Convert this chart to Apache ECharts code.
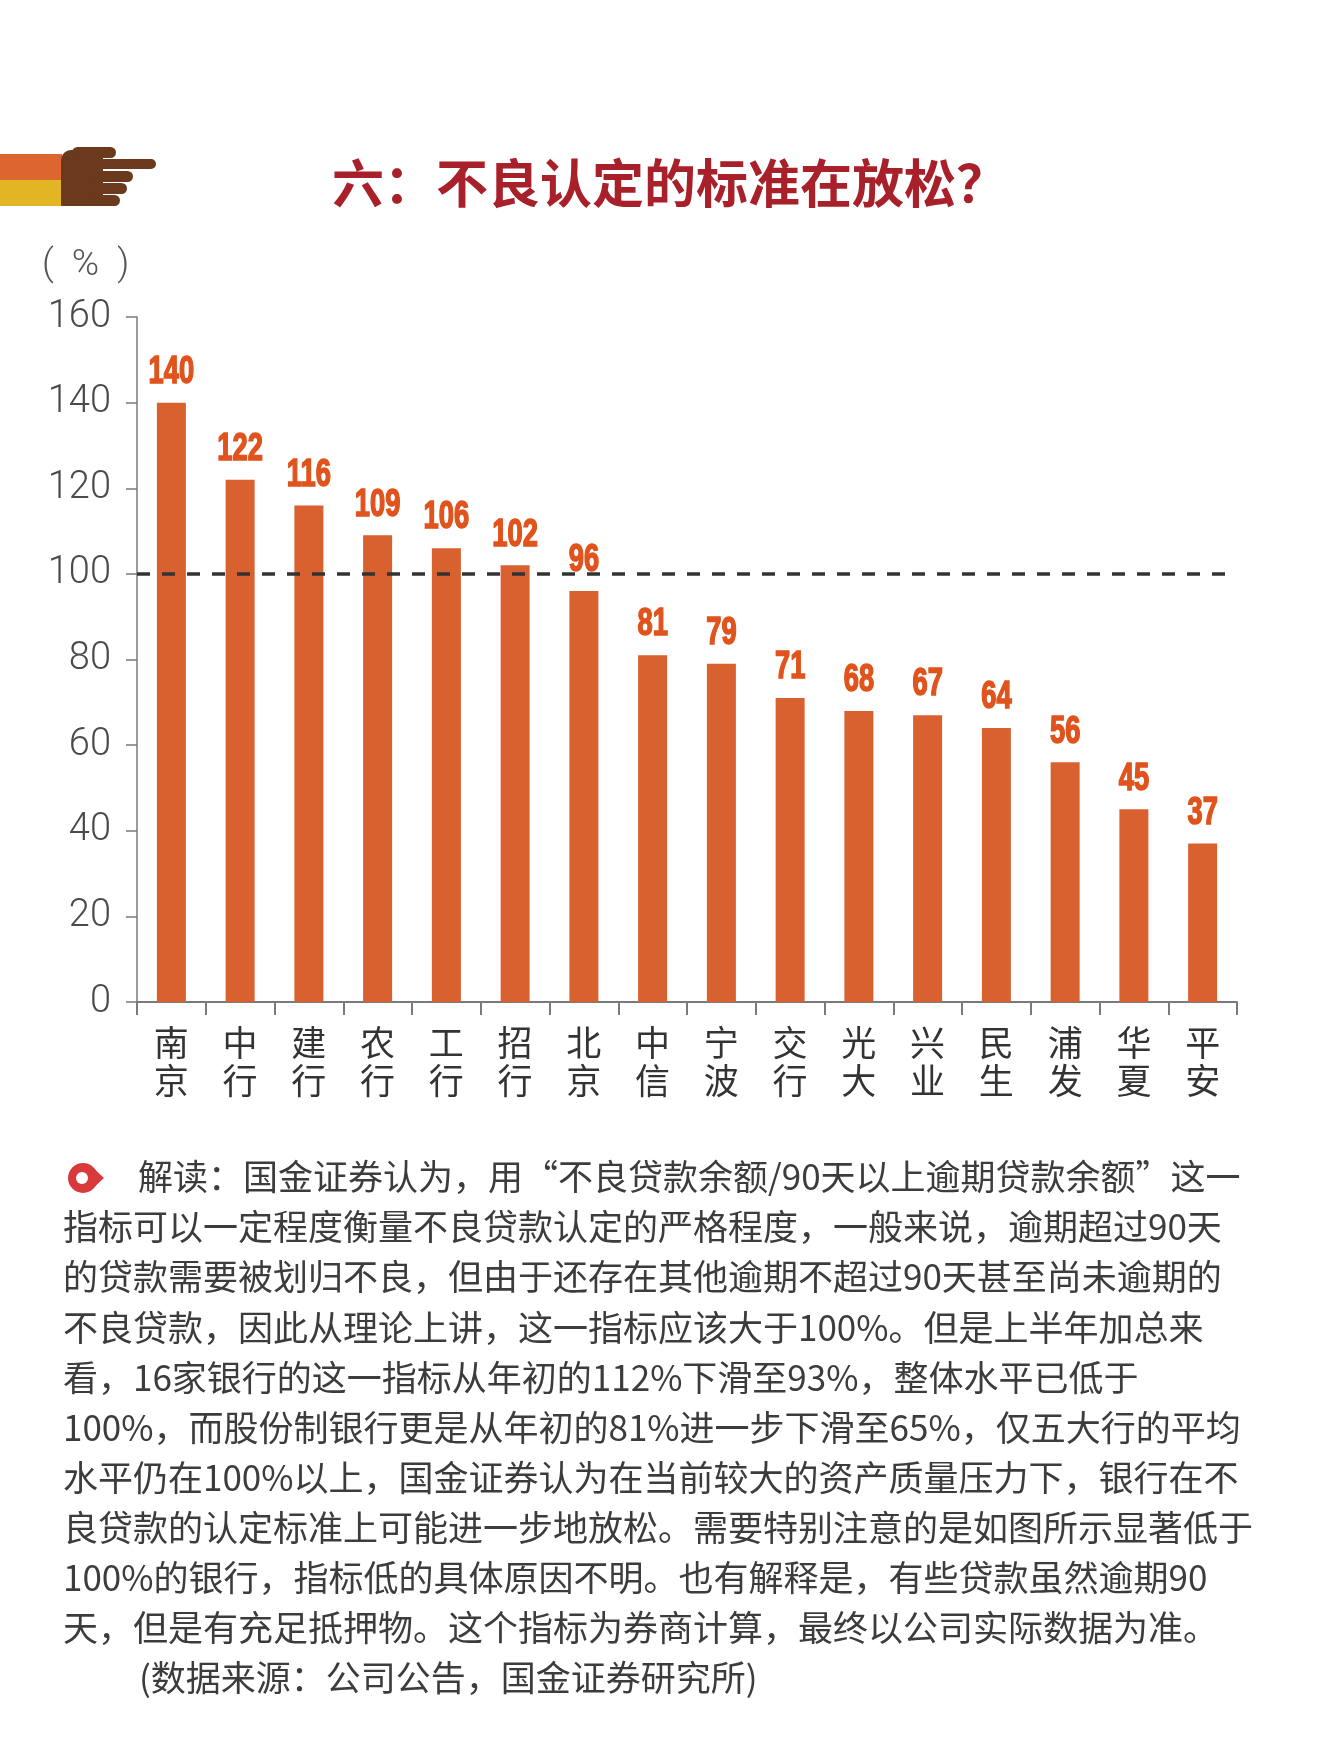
<!DOCTYPE html>
<html>
<head>
<meta charset="utf-8">
<script src="https://cdn.jsdelivr.net/npm/echarts@6/dist/echarts.min.js"></script>
<style>
html,body{margin:0;padding:0;background:#fff;}
#chart{width:1332px;height:1739px;}
</style>
</head>
<body>
<div id="chart"></div>
<script>
// ---- data ----
var categories = ['南\n京','中\n行','建\n行','农\n行','工\n行','招\n行','北\n京','中\n信','宁\n波','交\n行','光\n大','兴\n业','民\n生','浦\n发','华\n夏','平\n安'];
var values = [140,122,116,109,106,102,96,81,79,71,68,67,64,56,45,37];
var refLine = 100;
var yMin = 0, yMax = 160, yInterval = 20;
var titleText = '六：不良认定的标准在放松？';
var unitText = '(  %  )';
var noteLines = [
  '解读：国金证券认为，用“不良贷款余额/90天以上逾期贷款余额”这一',
  '指标可以一定程度衡量不良贷款认定的严格程度，一般来说，逾期超过90天',
  '的贷款需要被划归不良，但由于还存在其他逾期不超过90天甚至尚未逾期的',
  '不良贷款，因此从理论上讲，这一指标应该大于100%。但是上半年加总来',
  '看，16家银行的这一指标从年初的112%下滑至93%，整体水平已低于',
  '100%，而股份制银行更是从年初的81%进一步下滑至65%，仅五大行的平均',
  '水平仍在100%以上，国金证券认为在当前较大的资产质量压力下，银行在不',
  '良贷款的认定标准上可能进一步地放松。需要特别注意的是如图所示显著低于',
  '100%的银行，指标低的具体原因不明。也有解释是，有些贷款虽然逾期90',
  '天，但是有充足抵押物。这个指标为券商计算，最终以公司实际数据为准。'
];
var sourceText = '(数据来源：公司公告，国金证券研究所)';

// ---- chart ----
var chart = echarts.init(document.getElementById('chart'));
var cjk = "'Noto Sans CJK SC', sans-serif";
var graphics = [
  // banner + hand icon
  {type:'rect', shape:{x:0,y:154,width:62,height:26}, style:{fill:'#dd6530'}},
  {type:'rect', shape:{x:0,y:180,width:62,height:26}, style:{fill:'#e2b524'}},
  {type:'rect', shape:{x:61,y:150,width:42,height:56,r:[10,0,0,0]}, style:{fill:'#6b3a1d'}},
  {type:'rect', shape:{x:72,y:147,width:44,height:11,r:5.5}, style:{fill:'#6b3a1d'}},
  {type:'rect', shape:{x:90,y:159,width:66,height:10,r:5}, style:{fill:'#6b3a1d'}},
  {type:'rect', shape:{x:90,y:171,width:43,height:11,r:5.5}, style:{fill:'#6b3a1d'}},
  {type:'rect', shape:{x:90,y:183,width:37,height:11,r:5.5}, style:{fill:'#6b3a1d'}},
  {type:'rect', shape:{x:90,y:195,width:30,height:11,r:5.5}, style:{fill:'#6b3a1d'}},
  // title
  {type:'text', x:332, y:183, style:{text:titleText, font:"bold 52px 'Noto Sans CJK SC'", fill:'#a8212a', textVerticalAlign:'middle'}},
  // unit
  {type:'text', x:42, y:266, style:{text:unitText, font:"300 37px Roboto, 'Noto Sans', sans-serif", fill:'#555', textVerticalAlign:'middle'}},
  // paragraph icon
  {type:'polygon', shape:{points:[[90,1165],[104,1178],[90,1191]]}, style:{fill:'#d8393a'}},
  {type:'circle', shape:{cx:83,cy:1178,r:15}, style:{fill:'#d8393a'}},
  {type:'circle', shape:{cx:82,cy:1178,r:6}, style:{fill:'#fff'}}
];
noteLines.forEach(function(t, i){
  graphics.push({type:'text', x: i === 0 ? 138 : 63, y: 1177 + i*50.1,
    style:{text:t, font:"35px 'Noto Sans CJK SC'", fill:'#3c3c3c', textVerticalAlign:'middle'}});
});
graphics.push({type:'text', x:139, y:1177 + 10*50.1,
  style:{text:sourceText, font:"35px 'Noto Sans CJK SC'", fill:'#3c3c3c', textVerticalAlign:'middle'}});

chart.setOption({
  backgroundColor:'#fff',
  animation:false,
  grid:{left:137, right:95, top:317, bottom:737, containLabel:false},
  xAxis:{
    type:'category', data:categories, boundaryGap:true,
    axisLine:{show:true, lineStyle:{color:'#7a7a7a', width:2}},
    axisTick:{show:true, interval:0, alignWithLabel:false, length:13, lineStyle:{color:'#7a7a7a', width:2}},
    axisLabel:{interval:0, fontSize:35, lineHeight:38, color:'#333', margin:22, fontFamily:cjk}
  },
  yAxis:{
    type:'value', min:yMin, max:yMax, interval:yInterval,
    splitLine:{show:false},
    axisLine:{show:true, lineStyle:{color:'#7a7a7a', width:1.5}},
    axisTick:{show:true, length:11, lineStyle:{color:'#7a7a7a', width:1.5}},
    axisLabel:{fontSize:38, color:'#4a4a4a', margin:26, fontFamily:"Roboto, 'Noto Sans', sans-serif", fontWeight:300}
  },
  series:[{
    type:'bar', data:values, barWidth:29,
    itemStyle:{color:'#d9612f'},
    markLine:{
      silent:true, symbol:['none','none'], label:{show:false}, z:10,
      lineStyle:{color:'#333', width:3.5, type:[13,12]},
      data:[{yAxis:refLine}]
    }
  },{
    type:'custom', z:5,
    data: values.map(function(v, i){ return [i, v]; }),
    encode:{x:0, y:1},
    renderItem:function(params, api){
      var p = api.coord([api.value(0), api.value(1)]);
      return {
        type:'text', x:p[0], y:p[1] - 11, scaleX:0.7,
        style:{text:String(api.value(1)), font:"bold 39px 'Liberation Sans', Arial, sans-serif",
          fill:'#e0531c', stroke:'#e0531c', lineWidth:1.6, textAlign:'center', textVerticalAlign:'bottom'}
      };
    }
  }],
  graphic:graphics
});
</script>
</body>
</html>
